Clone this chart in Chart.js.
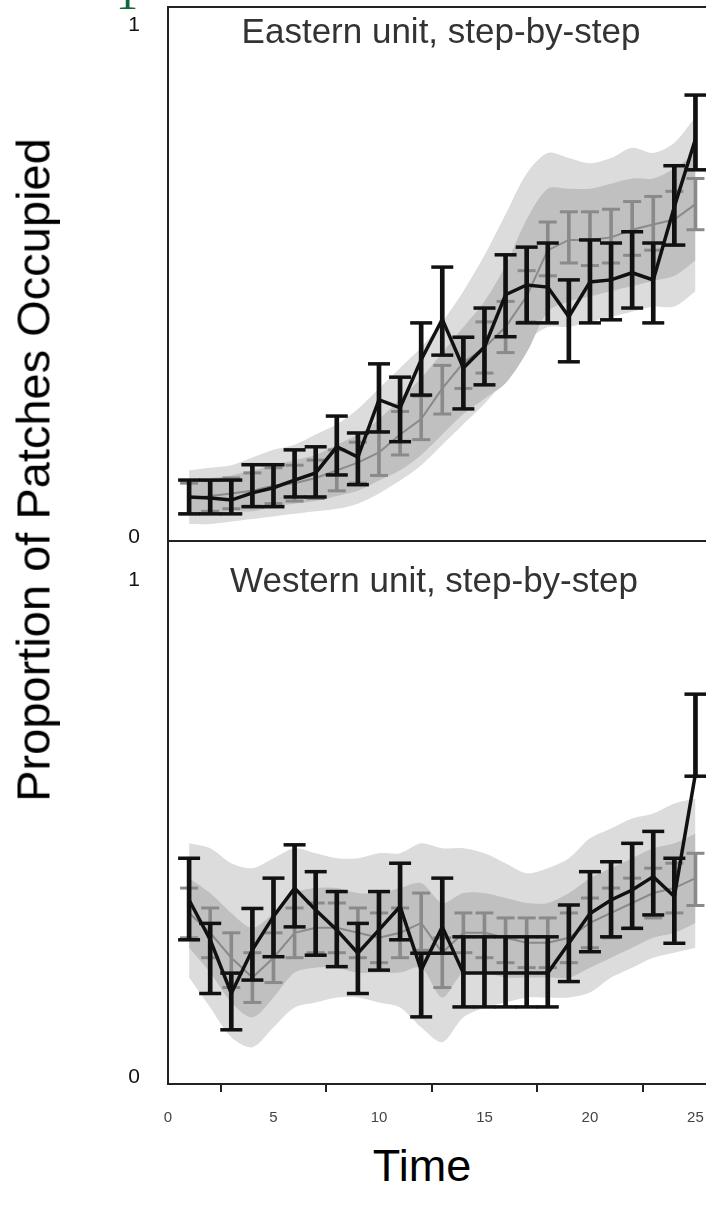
<!DOCTYPE html>
<html lang="en">
<head>
  <meta charset="UTF-8" />
  <title>Proportion of Patches Occupied</title>

  <!-- Chart.js -->
  <script src="https://cdn.jsdelivr.net/npm/chart.js"></script>

  <style>
    body {
      margin: 0;
      background: #fff;
      font-family: 'Liberation Sans', Arial, sans-serif;
    }
    #page {
      position: relative;
      width: 706px;
      height: 1211px;
      overflow: hidden;
    }
    canvas {
      position: absolute;
      left: 0;
    }
    #topChart { top: 0; }
    #bottomChart { top: 536px; }
    .txt {
      position: absolute;
      white-space: nowrap;
      transform: translate(-50%, -50%);
      line-height: 1;
    }
    #yTitle {
      left: 33px;
      top: 470px;
      font-size: 47px;
      color: #000;
      transform: translate(-50%, -50%) rotate(-90deg);
    }
    #xTitle {
      left: 422px;
      top: 1165px;
      font-size: 45px;
      color: #000;
    }
    .panelTitle {
      font-size: 35px;
      color: #333;
    }
    #eastTitle { left: 441px; top: 30px; }
    #westTitle { left: 434px; top: 579px; }
    #mark {
      position: absolute;
      left: 116px;
      top: -27px;
      font-family: 'Liberation Serif', serif;
      font-size: 44px;
      line-height: 1;
      color: #0e6a3b;
    }
  </style>
</head>
<body>
<div id="page">
  <canvas id="topChart" width="706" height="545"></canvas>
  <canvas id="bottomChart" width="706" height="600"></canvas>

  <div id="mark">1</div>
  <div class="txt" id="yTitle">Proportion of Patches Occupied</div>
  <div class="txt" id="xTitle">Time</div>
  <div class="txt panelTitle" id="eastTitle">Eastern unit, step-by-step</div>
  <div class="txt panelTitle" id="westTitle">Western unit, step-by-step</div>
</div>

<script>
  // ---- datos ----
  const times = [1, 2, 3, 4, 5, 6, 7, 8, 9, 10, 11, 12, 13, 14, 15, 16, 17, 18, 19, 20, 21, 22, 23, 24, 25];
  const xTicks = [0, 5, 10, 15, 20, 25];
  const yTicks = [0, 1];

  // Eastern unit: observed (black)
  const eastObs   = [0.078, 0.076, 0.072, 0.086, 0.096, 0.111, 0.125, 0.176, 0.156, 0.268, 0.252, 0.346, 0.425, 0.330, 0.371, 0.473, 0.492, 0.488, 0.430, 0.498, 0.502, 0.516, 0.502, 0.645, 0.777];
  const eastObsLo = [0.045, 0.045, 0.045, 0.059, 0.059, 0.078, 0.078, 0.121, 0.102, 0.205, 0.186, 0.277, 0.355, 0.250, 0.297, 0.391, 0.418, 0.418, 0.342, 0.418, 0.424, 0.447, 0.418, 0.570, 0.717];
  const eastObsHi = [0.111, 0.111, 0.111, 0.141, 0.141, 0.170, 0.176, 0.236, 0.203, 0.338, 0.312, 0.418, 0.527, 0.390, 0.447, 0.551, 0.566, 0.574, 0.502, 0.580, 0.574, 0.596, 0.574, 0.725, 0.863];
  // Eastern unit: model (grey)
  const eastMod   = [0.075, 0.080, 0.085, 0.090, 0.100, 0.105, 0.115, 0.130, 0.145, 0.165, 0.200, 0.230, 0.290, 0.340, 0.370, 0.410, 0.470, 0.560, 0.580, 0.580, 0.585, 0.600, 0.610, 0.620, 0.650];
  const eastModLo = [0.045, 0.050, 0.055, 0.060, 0.065, 0.070, 0.075, 0.090, 0.105, 0.120, 0.160, 0.190, 0.240, 0.290, 0.320, 0.360, 0.420, 0.510, 0.535, 0.530, 0.535, 0.550, 0.560, 0.570, 0.600];
  const eastModHi = [0.105, 0.110, 0.115, 0.125, 0.135, 0.140, 0.150, 0.170, 0.185, 0.205, 0.245, 0.275, 0.335, 0.390, 0.420, 0.460, 0.520, 0.615, 0.635, 0.635, 0.640, 0.655, 0.665, 0.675, 0.700];
  // Eastern unit: simulation cloud
  const eastCoreLo  = [0.045, 0.045, 0.050, 0.050, 0.060, 0.065, 0.070, 0.080, 0.090, 0.110, 0.130, 0.160, 0.200, 0.240, 0.270, 0.300, 0.360, 0.440, 0.460, 0.470, 0.480, 0.490, 0.500, 0.510, 0.540];
  const eastCoreHi  = [0.110, 0.115, 0.120, 0.130, 0.140, 0.150, 0.160, 0.180, 0.200, 0.230, 0.270, 0.310, 0.360, 0.410, 0.460, 0.530, 0.620, 0.680, 0.680, 0.680, 0.690, 0.700, 0.700, 0.720, 0.750];
  const eastCloudLo = [0.025, 0.025, 0.030, 0.035, 0.040, 0.045, 0.050, 0.055, 0.065, 0.085, 0.110, 0.140, 0.180, 0.220, 0.260, 0.310, 0.380, 0.410, 0.410, 0.420, 0.430, 0.440, 0.450, 0.450, 0.480];
  const eastCloudHi = [0.130, 0.135, 0.140, 0.155, 0.170, 0.180, 0.200, 0.220, 0.250, 0.290, 0.330, 0.370, 0.420, 0.480, 0.550, 0.630, 0.710, 0.750, 0.740, 0.730, 0.740, 0.760, 0.750, 0.770, 0.820];

  // Western unit: observed (black)
  const westObs   = [0.356, 0.276, 0.168, 0.256, 0.323, 0.380, 0.336, 0.296, 0.249, 0.296, 0.343, 0.215, 0.302, 0.209, 0.209, 0.209, 0.209, 0.209, 0.269, 0.329, 0.356, 0.376, 0.403, 0.363, 0.610];
  const westObsLo = [0.276, 0.168, 0.095, 0.195, 0.242, 0.302, 0.245, 0.222, 0.168, 0.215, 0.276, 0.121, 0.249, 0.141, 0.141, 0.141, 0.141, 0.141, 0.192, 0.252, 0.282, 0.299, 0.326, 0.269, 0.605];
  const westObsHi = [0.440, 0.309, 0.209, 0.339, 0.400, 0.467, 0.413, 0.373, 0.309, 0.373, 0.430, 0.249, 0.400, 0.282, 0.282, 0.282, 0.282, 0.282, 0.346, 0.413, 0.433, 0.470, 0.494, 0.440, 0.770];
  // Western unit: model (grey)
  const westMod   = [0.330, 0.290, 0.240, 0.200, 0.240, 0.290, 0.300, 0.300, 0.290, 0.280, 0.290, 0.310, 0.250, 0.290, 0.290, 0.280, 0.270, 0.270, 0.280, 0.310, 0.330, 0.350, 0.370, 0.380, 0.400];
  const westModLo = [0.280, 0.240, 0.180, 0.150, 0.190, 0.240, 0.250, 0.250, 0.240, 0.230, 0.240, 0.255, 0.180, 0.250, 0.240, 0.230, 0.220, 0.220, 0.230, 0.260, 0.280, 0.300, 0.320, 0.330, 0.345];
  const westModHi = [0.380, 0.340, 0.290, 0.250, 0.290, 0.340, 0.350, 0.350, 0.340, 0.330, 0.340, 0.370, 0.280, 0.330, 0.330, 0.320, 0.320, 0.320, 0.330, 0.360, 0.380, 0.400, 0.420, 0.430, 0.450];
  // Western unit: simulation cloud
  const westCoreLo  = [0.260, 0.210, 0.150, 0.120, 0.160, 0.210, 0.220, 0.220, 0.210, 0.210, 0.210, 0.220, 0.160, 0.210, 0.210, 0.200, 0.200, 0.200, 0.200, 0.220, 0.240, 0.260, 0.280, 0.290, 0.310];
  const westCoreHi  = [0.400, 0.370, 0.330, 0.300, 0.330, 0.370, 0.380, 0.380, 0.370, 0.370, 0.380, 0.390, 0.350, 0.370, 0.370, 0.360, 0.350, 0.350, 0.370, 0.400, 0.420, 0.440, 0.460, 0.470, 0.490];
  const westCloudLo = [0.200, 0.140, 0.080, 0.060, 0.100, 0.140, 0.150, 0.160, 0.160, 0.150, 0.140, 0.100, 0.070, 0.120, 0.140, 0.150, 0.160, 0.160, 0.160, 0.170, 0.200, 0.220, 0.240, 0.250, 0.260];
  const westCloudHi = [0.470, 0.460, 0.430, 0.420, 0.440, 0.460, 0.450, 0.440, 0.440, 0.450, 0.450, 0.470, 0.460, 0.460, 0.450, 0.430, 0.410, 0.420, 0.440, 0.480, 0.500, 0.520, 0.530, 0.550, 0.560];

  // ---- helpers ----
  const pts = vals => times.map((t, i) => ({ x: t, y: vals[i] }));
  const stems = (lo, hi) => times.map((t, i) => ({ x: t, y: [lo[i], hi[i]] }));
  const caps = (lo, hi) => times.flatMap((t, i) => [{ x: t, y: lo[i] }, { x: t, y: hi[i] }]);

  // quitar el relleno automatico que Chart.js deja para las etiquetas
  function noPad(s) {
    s.paddingTop = 0;
    s.paddingBottom = 0;
    s.paddingLeft = 0;
    s.paddingRight = 0;
  }

  function band(lo, hi, color, order) {
    return [
      { type: 'line', data: pts(lo), borderWidth: 0, pointRadius: 0, fill: false, tension: 0.3, order: order },
      { type: 'line', data: pts(hi), borderWidth: 0, pointRadius: 0, fill: '-1', backgroundColor: color, tension: 0.3, order: order }
    ];
  }

  function errorSet(mean, lo, hi, color, opt, order) {
    return [
      { type: 'line', data: pts(mean), borderColor: color, borderWidth: opt.line, pointRadius: 0, fill: false, order: order + 2 },
      { type: 'bar', data: stems(lo, hi), backgroundColor: color, barThickness: opt.stem, grouped: false, borderWidth: 0, order: order + 1 },
      { type: 'line', data: caps(lo, hi), showLine: false, pointStyle: 'line', pointRadius: opt.cap,
        pointBorderWidth: opt.capWidth, pointBorderColor: color, borderColor: color, order: order }
    ];
  }

  function makeChart(id, d, yMin, yMax, isBottom) {
    const datasets = [
      ...band(d.cloudLo, d.cloudHi, '#dcdcdc', 20),
      ...band(d.coreLo, d.coreHi, '#c0c0c0', 19),
      ...errorSet(d.mod, d.modLo, d.modHi, '#8a8a8a', { line: 2, stem: 3, cap: 9, capWidth: 3 }, 10),
      ...errorSet(d.obs, d.obsLo, d.obsHi, '#111', { line: 3.5, stem: 4, cap: 11, capWidth: 3.5 }, 0)
    ];

    return new Chart(document.getElementById(id), {
      type: 'line',
      data: { datasets: datasets },
      options: {
        responsive: false,
        animation: false,
        events: [],
        layout: { autoPadding: false, padding: { top: isBottom ? 5 : 7, right: 0, bottom: 0, left: 0 } },
        plugins: { legend: { display: false }, tooltip: { enabled: false } },
        scales: {
          x: {
            type: 'linear',
            min: 0,
            max: 25.5,
            offset: false,
            afterBuildTicks: s => { s.ticks = xTicks.map(v => ({ value: v })); },
            afterFit: s => { s.height = isBottom ? 52 : 4; noPad(s); },
            grid: { display: isBottom, drawOnChartArea: false, drawTicks: true, tickLength: 8, color: '#222', lineWidth: 2 },
            border: { display: true, color: '#222', width: 2 },
            ticks: {
              display: isBottom,
              maxRotation: 0,
              padding: 17,
              color: '#444',
              font: { family: "'Liberation Sans', Arial, sans-serif", size: 15 }
            }
          },
          xTop: {
            type: 'linear',
            position: 'top',
            min: 0,
            max: 25.5,
            display: !isBottom,
            afterFit: s => { s.height = 0; noPad(s); },
            grid: { display: false },
            border: { display: true, color: '#222', width: 2 },
            ticks: { display: false }
          },
          y: {
            type: 'linear',
            min: yMin,
            max: yMax,
            afterBuildTicks: s => { s.ticks = yTicks.map(v => ({ value: v })); },
            afterFit: s => { s.width = 168; noPad(s); },
            grid: { display: false },
            border: { display: true, color: '#222', width: 2 },
            ticks: {
              padding: 20,
              color: '#111',
              font: { family: "'Liberation Sans', Arial, sans-serif", size: 21 }
            }
          }
        }
      }
    });
  }

  makeChart('topChart', {
    obs: eastObs, obsLo: eastObsLo, obsHi: eastObsHi,
    mod: eastMod, modLo: eastModLo, modHi: eastModHi,
    coreLo: eastCoreLo, coreHi: eastCoreHi, cloudLo: eastCloudLo, cloudHi: eastCloudHi
  }, -0.008, 1.035, false);

  makeChart('bottomChart', {
    obs: westObs, obsLo: westObsLo, obsHi: westObsHi,
    mod: westMod, modLo: westModLo, modHi: westModHi,
    coreLo: westCoreLo, coreHi: westCoreHi, cloudLo: westCloudLo, cloudHi: westCloudHi
  }, -0.014, 1.078, true);
</script>
</body>
</html>
